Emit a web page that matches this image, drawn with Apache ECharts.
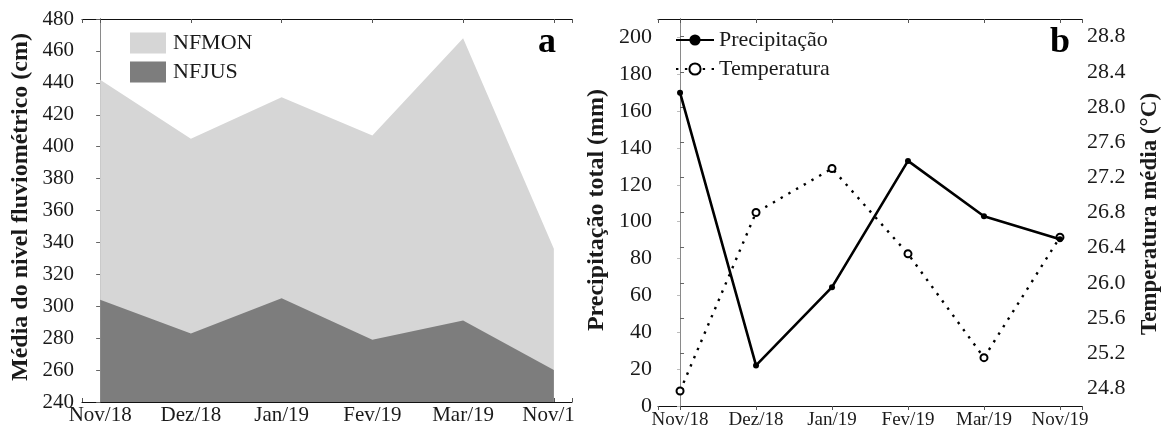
<!DOCTYPE html>
<html>
<head>
<meta charset="utf-8">
<script src="https://cdn.jsdelivr.net/npm/echarts@6/dist/echarts.min.js"></script>
<style>
  html, body { margin: 0; padding: 0; background: #fff; }
  #wrap { position: relative; width: 1163px; height: 432px; overflow: hidden; }
  #clipA { position: absolute; left: 0; top: 0; width: 575px; height: 432px; overflow: hidden; }
  #panelA { position: absolute; left: 0; top: 0; width: 640px; height: 432px; }
  #panelB { position: absolute; left: 575px; top: 0; width: 588px; height: 432px; }
</style>
</head>
<body>
<div id="wrap">
  <div id="clipA"><div id="panelA"></div></div>
  <div id="panelB"></div>
</div>
<script>
// Months shown on both panels
const months = ['Nov/18', 'Dez/18', 'Jan/19', 'Fev/19', 'Mar/19', 'Nov/19'];

// Panel a: mean river level (cm) at the two stations
const nfmon = [442, 405, 431, 407, 468, 336];
const nfjus = [304, 283, 305, 279, 291, 260];

// Panel b: total precipitation (mm) and mean temperature (°C)
const precipitacao = [170, 22, 64.5, 133, 103, 90.5];
const temperatura = [24.77, 26.80, 27.30, 26.33, 25.15, 26.52];

const FONT = 'Liberation Serif, Times New Roman, serif';
const INK = '#1a1a1a';

const pairs = arr => arr.map((v, i) => [i, v]);
const monthLabel = v => (Math.abs(v - Math.round(v)) < 1e-9 && months[Math.round(v)] !== undefined) ? months[Math.round(v)] : '';

// ---------- Panel a (its canvas is wider than the visible box, so the last month label is cut at the edge) ----------
const chartA = echarts.init(document.getElementById('panelA'), null, { renderer: 'canvas' });
chartA.setOption({
  animation: false,
  grid: { left: 82, right: 68, top: 19, bottom: 30, containLabel: false },
  legend: {
    orient: 'vertical', left: 125, top: 27,
    itemWidth: 36, itemHeight: 21, itemGap: 7,
    icon: 'rect',
    textStyle: { fontFamily: FONT, fontSize: 22, color: INK, padding: [0, 0, 0, 2] },
    data: ['NFMON', 'NFJUS']
  },
  xAxis: [
    {
      type: 'value', min: -0.2, max: 5.2, minInterval: 1, maxInterval: 1,
      axisLine: { lineStyle: { color: '#111', width: 1 } },
      axisTick: { inside: true, length: 4, lineStyle: { color: '#555' } },
      axisLabel: { formatter: monthLabel, fontFamily: FONT, fontSize: 21, color: INK, margin: 3 },
      splitLine: { show: false }
    },
    {
      type: 'value', position: 'top', min: -0.2, max: 5.2, minInterval: 1, maxInterval: 1,
      axisLine: { lineStyle: { color: '#111', width: 1 } },
      axisTick: { inside: true, length: 4, lineStyle: { color: '#555' } },
      axisLabel: { show: false },
      splitLine: { show: false }
    }
  ],
  yAxis: [
    {
      type: 'value', min: 240, max: 480, interval: 20,
      axisLine: { show: true, lineStyle: { color: '#111', width: 1 } },
      axisTick: { show: true, length: 3, lineStyle: { color: '#bbb' } },
      axisLabel: { fontFamily: FONT, fontSize: 21, color: INK, margin: 8 },
      splitLine: { show: false }
    },
    {
      type: 'value', position: 'right', min: 240, max: 480, interval: 20,
      axisLine: { show: true, lineStyle: { color: '#8a8a8a', width: 1 } },
      axisTick: { show: true, inside: true, length: 4, lineStyle: { color: '#666' } },
      axisLabel: { show: false },
      splitLine: { show: false }
    }
  ],
  series: [
    {
      name: 'NFMON', type: 'line', data: pairs(nfmon), symbol: 'none',
      lineStyle: { width: 0 },
      itemStyle: { color: '#d6d6d6' },
      areaStyle: { color: '#d6d6d6', opacity: 1, origin: 'start' },
      z: 1
    },
    {
      name: 'NFJUS', type: 'line', data: pairs(nfjus), symbol: 'none',
      lineStyle: { width: 0 },
      itemStyle: { color: '#7d7d7d' },
      areaStyle: { color: '#7d7d7d', opacity: 1, origin: 'start' },
      z: 2
    }
  ],
  graphic: [
    {
      type: 'text', x: 21, y: 207, rotation: Math.PI / 2,
      style: {
        text: 'Média do nivel fluviométrico (cm)', fontFamily: FONT, fontSize: 24, fontWeight: 'bold',
        fill: INK, align: 'center', verticalAlign: 'middle'
      }
    },
    {
      type: 'text', x: 547, y: 43,
      style: { text: 'a', fontFamily: FONT, fontSize: 36, fontWeight: 'bold', fill: '#000', align: 'center', verticalAlign: 'middle' }
    }
  ]
});

// ---------- Panel b ----------
const chartB = echarts.init(document.getElementById('panelB'), null, { renderer: 'canvas' });
chartB.setOption({
  animation: false,
  grid: { left: 83, right: 81, top: 19, bottom: 26, containLabel: false },
  legend: {
    orient: 'vertical', left: 95, top: 24,
    itemWidth: 38, itemHeight: 14, itemGap: 7,
    textStyle: { fontFamily: FONT, fontSize: 22, color: INK, padding: [0, 0, 0, 0] },
    data: ['Precipitação', 'Temperatura']
  },
  xAxis: [
    {
      type: 'value', min: -0.29, max: 5.29, minInterval: 1, maxInterval: 1,
      axisLine: { lineStyle: { color: '#111', width: 1 } },
      axisTick: { length: 4, lineStyle: { color: '#555' } },
      axisLabel: { formatter: monthLabel, fontFamily: FONT, fontSize: 19, color: INK, margin: 5 },
      splitLine: { show: false }
    },
    {
      type: 'value', position: 'top', min: -0.29, max: 5.29, minInterval: 1, maxInterval: 1,
      axisLine: { lineStyle: { color: '#111', width: 1 } },
      axisTick: { inside: true, length: 4, lineStyle: { color: '#555' } },
      axisLabel: { show: false },
      splitLine: { show: false }
    }
  ],
  yAxis: [
    {
      type: 'value', min: 0, max: 210, interval: 20,
      axisLine: { show: true, lineStyle: { color: '#111', width: 1 } },
      axisTick: { show: true, length: 3, lineStyle: { color: '#bbb' } },
      axisLabel: { fontFamily: FONT, fontSize: 22, color: INK, margin: 6, showMaxLabel: false },
      splitLine: { show: false }
    },
    {
      type: 'value', position: 'right', min: 24.6, max: 29.0, minInterval: 0.4, maxInterval: 0.4,
      axisLine: { show: true, lineStyle: { color: '#8a8a8a', width: 1 } },
      axisTick: { show: true, length: 4, lineStyle: { color: '#666' } },
      axisLabel: {
        fontFamily: FONT, fontSize: 22, color: INK, margin: 5,
        showMinLabel: false, showMaxLabel: false,
        formatter: v => v.toFixed(1)
      },
      splitLine: { show: false }
    }
  ],
  series: [
    {
      name: 'Precipitação', type: 'line', data: pairs(precipitacao), yAxisIndex: 0,
      symbol: 'circle', symbolSize: 6,
      lineStyle: { color: '#000', width: 2.6 },
      itemStyle: { color: '#000' },
      z: 3
    },
    {
      name: 'Temperatura', type: 'line', data: pairs(temperatura), yAxisIndex: 1,
      symbol: 'emptyCircle', symbolSize: 7,
      lineStyle: { color: '#000', width: 2.4, type: [2.4, 6.5] },
      itemStyle: { color: '#000', borderColor: '#000', borderWidth: 1 },
      z: 2
    }
  ],
  graphic: [
    {
      type: 'text', x: 22, y: 210, rotation: Math.PI / 2,
      style: {
        text: 'Precipitação total (mm)', fontFamily: FONT, fontSize: 24, fontWeight: 'bold',
        fill: INK, align: 'center', verticalAlign: 'middle'
      }
    },
    {
      type: 'text', x: 575, y: 214, rotation: Math.PI / 2,
      style: {
        text: 'Temperatura média (°C)', fontFamily: FONT, fontSize: 23, fontWeight: 'bold',
        fill: INK, align: 'center', verticalAlign: 'middle'
      }
    },
    {
      type: 'text', x: 485, y: 43,
      style: { text: 'b', fontFamily: FONT, fontSize: 36, fontWeight: 'bold', fill: '#000', align: 'center', verticalAlign: 'middle' }
    }
  ]
});
</script>
</body>
</html>
